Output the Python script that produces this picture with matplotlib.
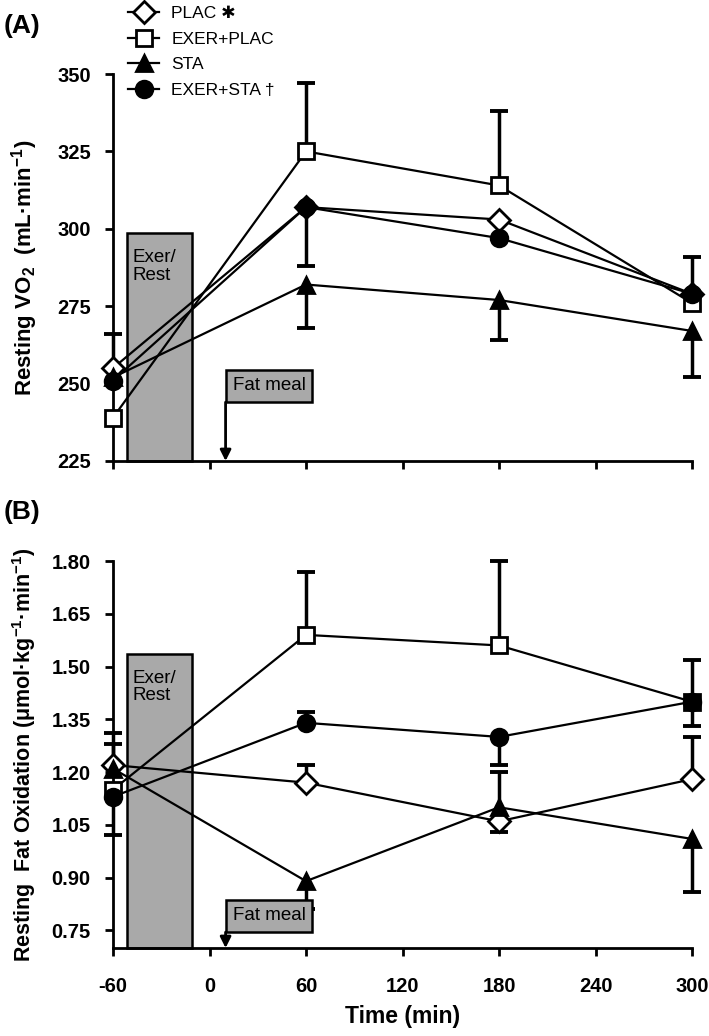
import matplotlib
matplotlib.use("Agg")
import matplotlib.pyplot as plt
import numpy as np

plt.rcParams['font.family'] = ['Liberation Sans', 'DejaVu Sans']
plt.rcParams['mathtext.fontset'] = 'custom'
plt.rcParams['mathtext.rm'] = 'Liberation Sans'
plt.rcParams['mathtext.bf'] = 'Liberation Sans:bold'
plt.rcParams['mathtext.default'] = 'bf'
plt.rcParams['axes.unicode_minus'] = False

# data
time = np.array([-60, 60, 180, 300])
labels = ["PLAC \u2731", "EXER+PLAC", "STA", "EXER+STA \u2020"]

vo2_plac = [255, 307, 303, 279]
vo2_exer_plac = [239, 325, 314, 276]
vo2_sta = [252, 282, 277, 267]
vo2_exer_sta = [251, 307, 297, 279]
# one-sided SD bars (lower, upper)
vo2_plac_err = ([0, 0, 0, 0], [11, 0, 0, 0])
vo2_exer_plac_err = ([0, 0, 0, 0], [0, 22, 24, 15])
vo2_sta_err = ([0, 14, 13, 15], [0, 0, 0, 0])
vo2_exer_sta_err = ([0, 19, 0, 0], [0, 0, 0, 0])

fat_plac = [1.22, 1.17, 1.06, 1.18]
fat_exer_plac = [1.15, 1.59, 1.56, 1.40]
fat_sta = [1.21, 0.89, 1.10, 1.01]
fat_exer_sta = [1.13, 1.34, 1.30, 1.40]
fat_plac_err = ([0, 0, 0.03, 0], [0.09, 0.05, 0, 0.12])
fat_exer_plac_err = ([0, 0, 0, 0], [0, 0.18, 0.24, 0.12])
fat_sta_err = ([0, 0.08, 0, 0.15], [0.07, 0, 0.10, 0])
fat_exer_sta_err = ([0.11, 0, 0.08, 0.07], [0, 0.03, 0, 0])

styles = [
    dict(marker='D', ms=11, mfc='white'),
    dict(marker='s', ms=12, mfc='white'),
    dict(marker='^', ms=12, mfc='black'),
    dict(marker='o', ms=12, mfc='black'),
]
box_grey = '#a9a9a9'


def draw_errs(ax, y, err):
    y = np.asarray(y, float)
    lo, hi = np.asarray(err[0], float), np.asarray(err[1], float)
    ax.errorbar(time, y, yerr=[lo, hi], fmt='none', ecolor='k',
                elinewidth=2.5, capsize=0, zorder=2, clip_on=False)
    for m, yy in [(hi > 0, y + hi), (lo > 0, y - lo)]:
        ax.plot(time[m], yy[m], ls='none', marker='_', ms=13, mew=2.8,
                color='k', zorder=2, clip_on=False)


def panel(ax, series, errs, ylim, yticks, fmt, exer_top, meal_box):
    for y, e in zip(series, errs):
        draw_errs(ax, y, e)
    handles = []
    for y, st, lab in zip(series, styles, labels):
        h, = ax.plot(time, y, color='k', lw=1.6, mec='k', mew=2, zorder=3,
                     clip_on=False, label=lab, **st)
        handles.append(h)

    # Exer/Rest block
    ax.add_patch(plt.Rectangle((-51, ylim[0]), 40, exer_top - ylim[0],
                               facecolor=box_grey, edgecolor='k', lw=1.8,
                               zorder=1, clip_on=False))
    ax.text(-48, exer_top - (ylim[1] - ylim[0]) * 0.04, "Exer/\nRest",
            fontsize=13.5, va='top', ha='left', linespacing=1.05, zorder=5)

    # Fat meal box + arrow
    b0, b1 = meal_box
    ax.add_patch(plt.Rectangle((10, b0), 54, b1 - b0, facecolor=box_grey,
                               edgecolor='k', lw=1.8, zorder=4))
    ax.text(37, (b0 + b1) / 2, "Fat meal", fontsize=13.5, ha='center',
            va='center', zorder=5)
    ax.annotate("", xy=(10, ylim[0]), xytext=(10, b0),
                arrowprops=dict(arrowstyle='-|>', color='k', lw=2,
                                mutation_scale=16, shrinkA=0, shrinkB=0),
                zorder=5)

    ax.set_xlim(-60, 300)
    ax.set_ylim(*ylim)
    ax.set_xticks(np.arange(-60, 301, 60))
    ax.set_yticks(yticks)
    ax.set_yticklabels([fmt.format(v) for v in yticks])
    for s in ['top', 'right']:
        ax.spines[s].set_visible(False)
    for s in ['left', 'bottom']:
        ax.spines[s].set_linewidth(2)
    ax.tick_params(direction='out', length=6, width=2, labelsize=14.5, pad=10)
    ax.tick_params(axis='x', pad=15)
    for t in ax.get_xticklabels() + ax.get_yticklabels():
        t.set_fontweight('bold')
    return handles


fig = plt.figure(figsize=(7.09, 10.36), dpi=100)
W, H = 709, 1036
axA = fig.add_axes([113 / W, (H - 461) / H, 579 / W, 387 / H])
axB = fig.add_axes([113 / W, (H - 948) / H, 579 / W, 387 / H])

handles = panel(axA, [vo2_plac, vo2_exer_plac, vo2_sta, vo2_exer_sta],
                [vo2_plac_err, vo2_exer_plac_err, vo2_sta_err, vo2_exer_sta_err],
                (225, 350), np.arange(225, 351, 25), "{:.0f}", 298.5, (244, 254.5))
axA.tick_params(labelbottom=False)
axA.set_ylabel("Resting VO$_2$  (mL\u00b7min$^{-1}$)", fontsize=16,
               fontweight='bold', labelpad=12)

panel(axB, [fat_plac, fat_exer_plac, fat_sta, fat_exer_sta],
      [fat_plac_err, fat_exer_plac_err, fat_sta_err, fat_exer_sta_err],
      (0.70, 1.80), np.round(np.arange(0.75, 1.81, 0.15), 2), "{:.2f}",
      1.535, (0.745, 0.837))
axB.set_ylabel("Resting  Fat Oxidation (\u03bcmol\u00b7kg$^{-1}$\u00b7min$^{-1}$)",
               fontsize=15.5, fontweight='bold', labelpad=10)
axB.set_xlabel("Time (min)", fontsize=16.5, fontweight='bold', labelpad=6)

fig.text(4 / W, 1 - 26 / H, "(A)", fontsize=19, fontweight='bold', va='center')
fig.text(4 / W, 1 - 512 / H, "(B)", fontsize=19, fontweight='bold', va='center')

fig.legend(handles=handles, loc='upper left', bbox_to_anchor=(128 / W, 1 - 6 / H),
           frameon=False, fontsize=12.5, handlelength=1.8, handletextpad=0.7,
           labelspacing=0.6, borderpad=0, borderaxespad=0)

fig.savefig("out.png", dpi=100)
